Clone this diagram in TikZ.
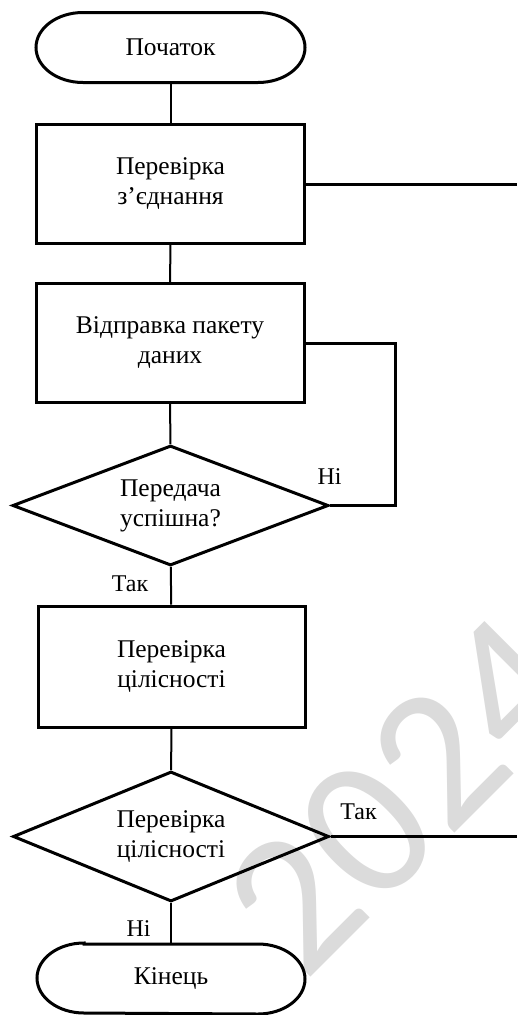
\documentclass[tikz,border=0pt]{standalone}
\usepackage{fontspec}
\setmainfont{Liberation Serif}
\newfontfamily\wmfont{Carlito}
\usetikzlibrary{shapes.geometric}

% outline of a start/end block: straight top and bottom, elliptic ends
\newcommand\termoutline[1]{%
  \draw[line width=3pt]
    ([xshift=47pt]#1.north west) -- ([xshift=-47pt]#1.north east)
    arc[start angle=90,end angle=-90,x radius=47pt,y radius=35pt]
    -- ([xshift=47pt]#1.south west)
    arc[start angle=270,end angle=90,x radius=47pt,y radius=35pt] -- cycle;}

\begin{document}
\begin{tikzpicture}[x=1pt,y=-1pt,
  every node/.append style={font=\fontsize{25.5pt}{30pt}\selectfont, align=center},
  procbox/.style={draw, line width=3pt, inner sep=0pt, minimum width=268pt, minimum height=119pt},
  decision/.style={draw, diamond, line width=3pt, inner sep=0pt, aspect=2.6, minimum width=316pt},
  terminal/.style={inner sep=0pt, outer sep=0pt, minimum width=269pt, minimum height=70pt},
  link/.style={line width=2pt},
  thicklink/.style={line width=3pt},
  branch/.style={font=\fontsize{24pt}{28pt}\selectfont, inner sep=0pt},
  wmark/.style={rotate=45, anchor=base west, inner sep=0pt, text=black!14,
    font=\wmfont\fontsize{200pt}{200pt}\selectfont}
]
\useasboundingbox (0,0) rectangle (517,1015);
\clip (0,0) rectangle (517,1015);

% background watermark
\node[wmark] (wm) at (304.5,983.5) {2024};

% blocks
\node[terminal] (start) at (170.5,47.5) {Початок};
\termoutline{start}
\node[procbox] (conn) at (170.5,184) {Перевірка\\з’єднання};
\node[procbox] (send) at (170,343) {Відправка пакету\\даних};
\node[decision, minimum height=120pt] (ok) at (170.5,505.5) {Передача\\успішна?};
\node[procbox, minimum width=267pt, minimum height=121pt] (integ) at (171.5,666.5) {Перевірка\\цілісності};
\node[decision, minimum height=130pt] (check) at (171,836.5) {Перевірка\\цілісності};
\node[terminal, minimum width=268pt, minimum height=69pt] (stop) at (171,978.5) {Кінець};
\termoutline{stop}

% free ends on the right border
\coordinate (exitA) at (517,184);
\coordinate (exitB) at (517,836.5);

% connectors
\draw[link] (start) -- (conn);
\draw[link] (conn) -- (send);
\draw[link] (send) -- (ok);
\draw[link] (ok) -- (integ);
\draw[link] (integ) -- (check);
\draw[link] (check) -- (stop);
\draw[thicklink] (conn.east) -- (exitA);
\draw[thicklink] (ok.east) -- ++(65,0) |- (send.east);
\draw[thicklink] (check.east) -- (exitB);

% branch labels
\node[branch] (noA) at (329.5,476.5) {Ні};
\node[branch] (yesA) at (130,583.5) {Так};
\node[branch] (yesB) at (358.5,811.5) {Так};
\node[branch] (noB) at (138.5,928.5) {Ні};
\end{tikzpicture}
\end{document}
